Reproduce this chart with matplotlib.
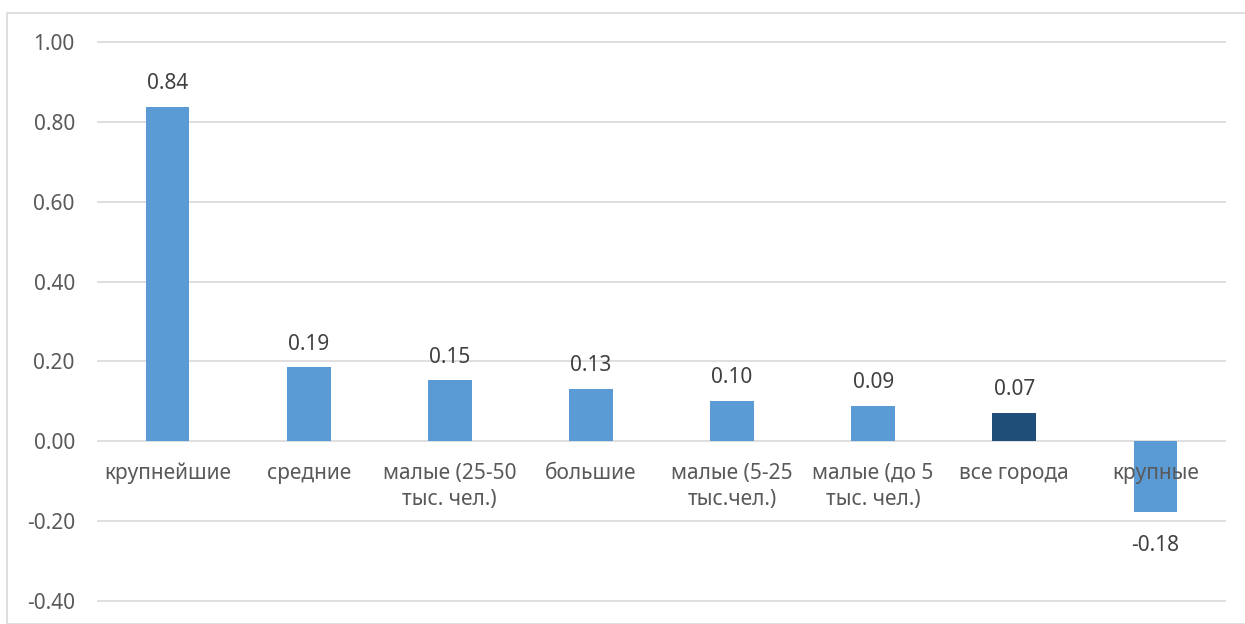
import numpy as np
import matplotlib
matplotlib.use("Agg")
import matplotlib.pyplot as plt
from matplotlib.patches import Rectangle

plt.rcParams['font.family'] = ['Noto Sans', 'DejaVu Sans']

# Data
categories = ['крупнейшие', 'средние', 'малые (25-50\nтыс. чел.)', 'большие',
              'малые (5-25\nтыс.чел.)', 'малые (до 5\nтыс. чел.)', 'все города', 'крупные']
values = [0.838, 0.186, 0.153, 0.132, 0.101, 0.089, 0.072, -0.178]
bar_colors = ['#5B9BD5'] * 6 + ['#1F4E79', '#5B9BD5']
yticks = [-0.4, -0.2, 0.0, 0.2, 0.4, 0.6, 0.8, 1.0]

text_color = '#595959'
grid_color = '#D9D9D9'

W, H = 1245, 624
fig = plt.figure(figsize=(W / 100, H / 100), dpi=100)

# plot area in pixels: x 97..1226, y 40 (top) .. 624 (bottom of image)
ax = fig.add_axes([97 / W, 0, (1226 - 97) / W, (H - 40) / H])
ax.set_ylim(-0.4575, 1.005)
ax.set_xlim(-0.5, len(categories) - 0.5)
ax.set_axisbelow(False)  # tick labels on top of bars (like "крупные" in Excel)

# gridlines drawn by hand under the bars
for t in yticks:
    ax.axhline(t, color=grid_color, linewidth=1.2, zorder=0.5)

x = np.arange(len(categories))
bars = ax.bar(x, values, width=0.31, color=bar_colors, zorder=1)

# data labels
for xi, v in zip(x, values):
    if v >= 0:
        ax.annotate(f'{v:.2f}', (xi, v), xytext=(0, 9), textcoords='offset points',
                    ha='center', va='bottom', fontsize=15, color='#404040')
    else:
        ax.annotate(f'{v:.2f}', (xi, v), xytext=(0, -16), textcoords='offset points',
                    ha='center', va='top', fontsize=15, color='#404040')

# axes styling
ax.set_yticks(yticks, labels=[f'{t:.2f}' for t in yticks])
for s in ['top', 'right', 'left', 'bottom']:
    ax.spines[s].set_visible(False)

ax.set_xticks(x, labels=categories)
ax.tick_params(axis='x', length=0, pad=15.5, labelsize=15, labelcolor=text_color)
ax.tick_params(axis='y', length=0, pad=16, labelsize=15, labelcolor=text_color)
# move the category labels up to the zero line
ax.spines['bottom'].set_position(('data', 0))
for lbl in ax.get_xticklabels():
    lbl.set_linespacing(1.35)

# chart frame
fig.patches.append(Rectangle((7 / W, 0), 1.0, (H - 13) / H, transform=fig.transFigure,
                             fill=False, edgecolor=grid_color, linewidth=1.2))

fig.savefig('out.png', dpi=100)
